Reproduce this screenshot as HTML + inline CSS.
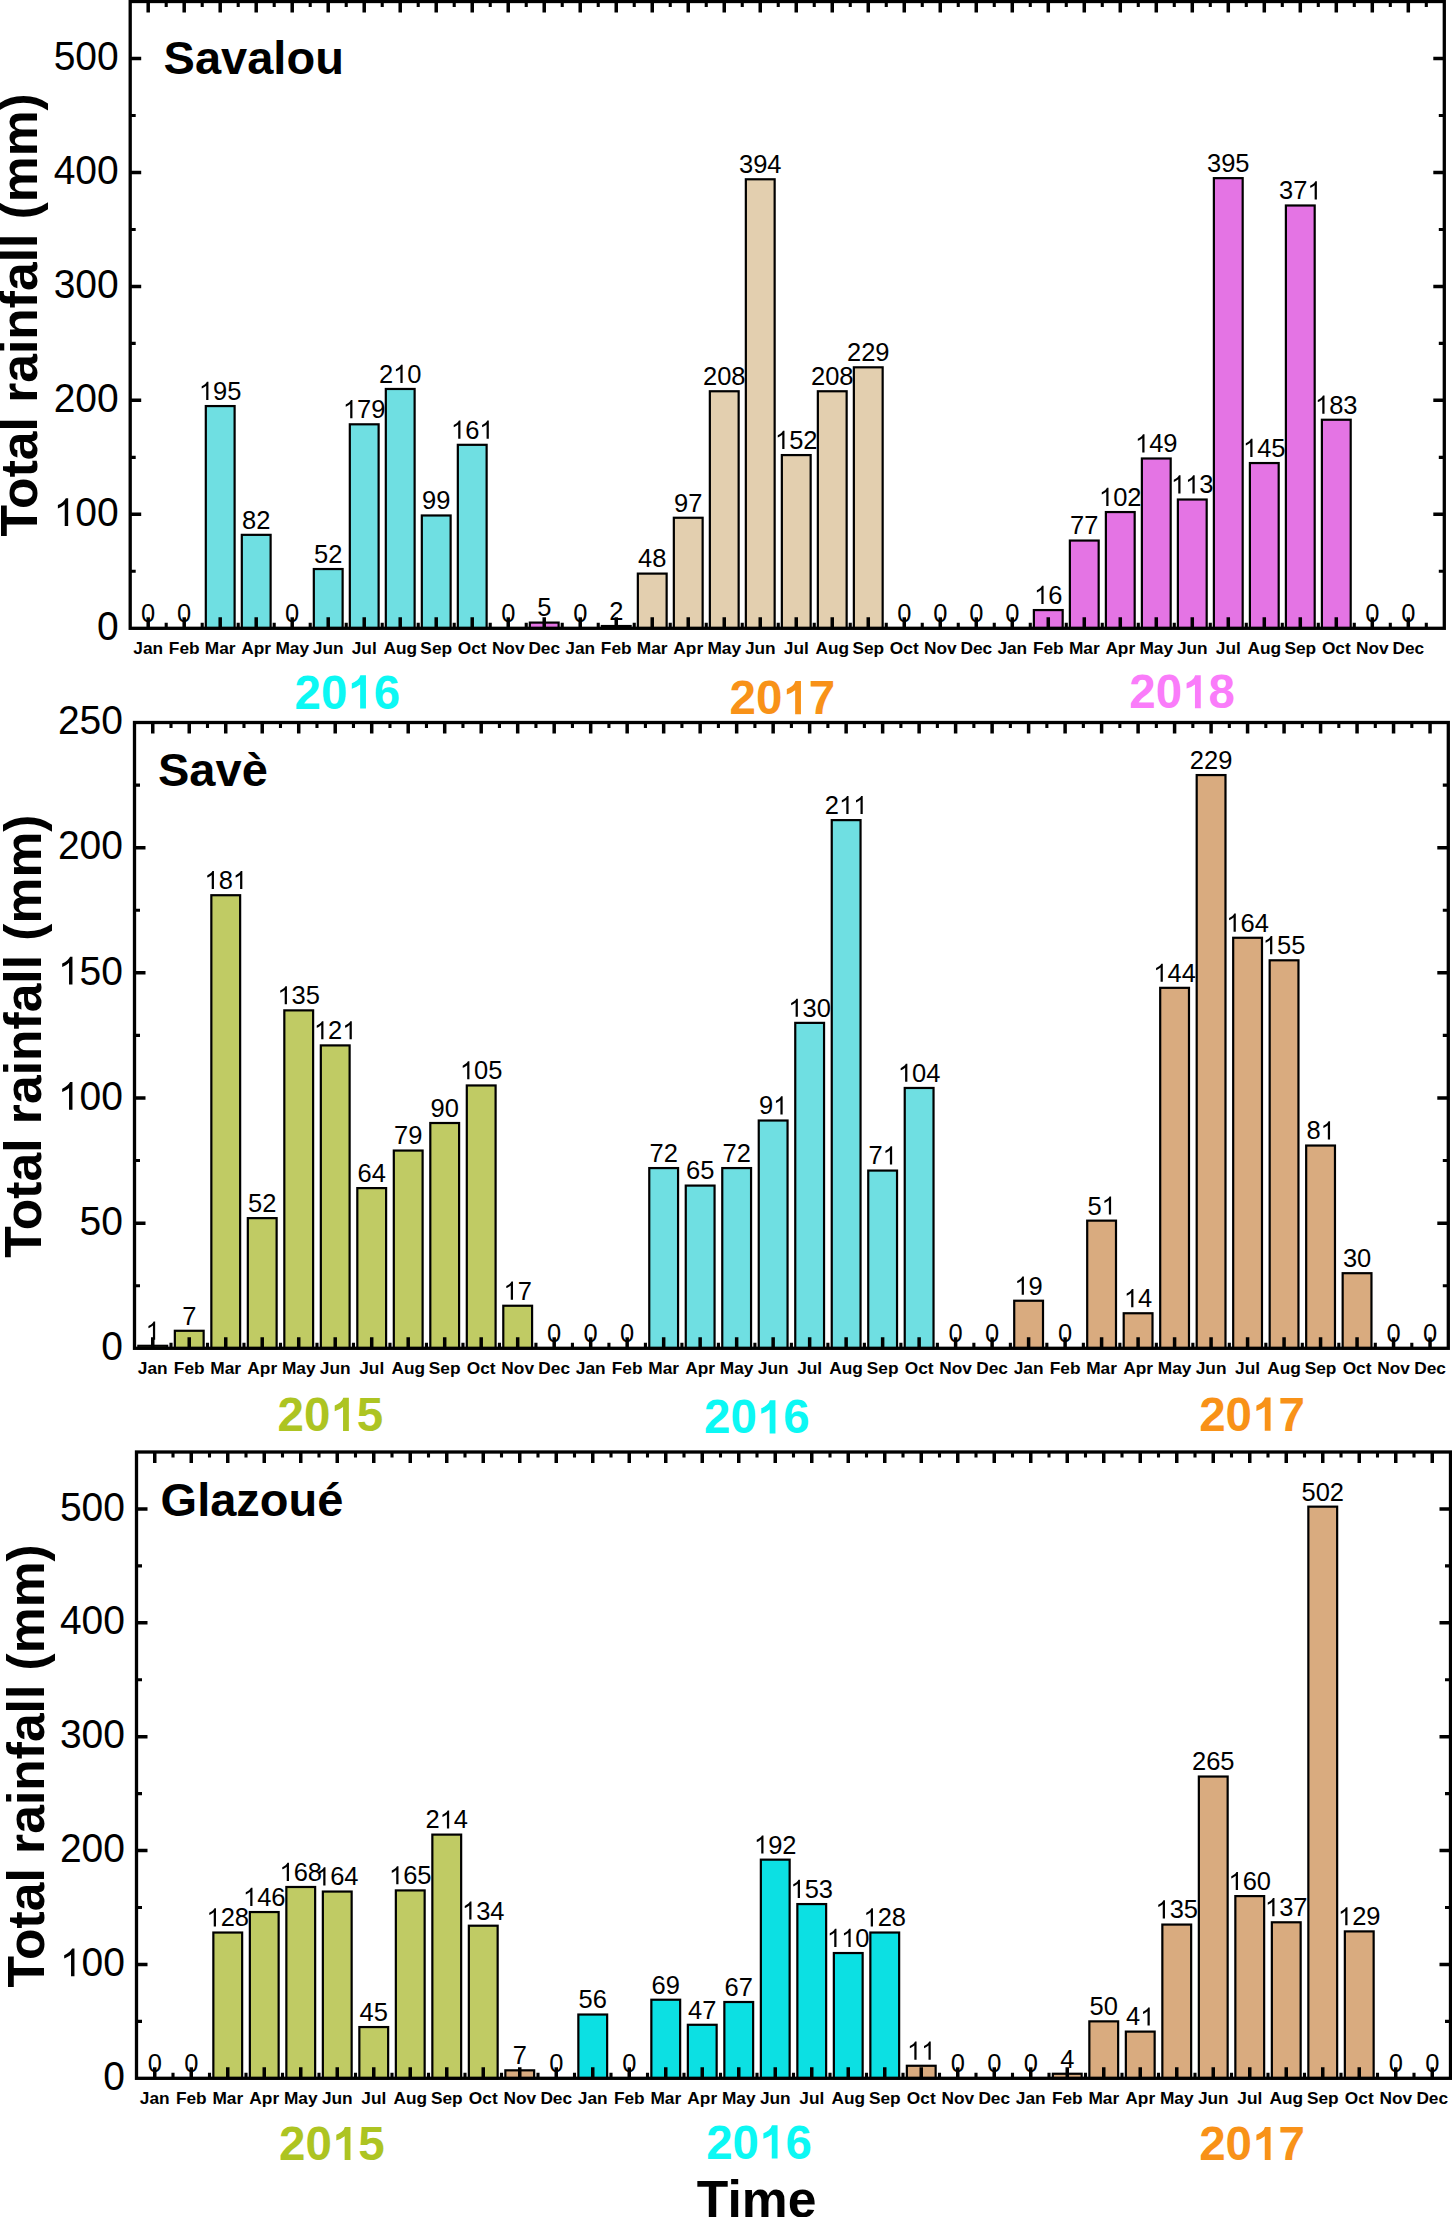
<!DOCTYPE html><html><head><meta charset="utf-8"><style>
html,body{margin:0;padding:0;background:#fff;width:1452px;height:2217px;overflow:hidden}
svg{display:block}text{font-family:"Liberation Sans",sans-serif}
.v{font-size:25.5px;text-anchor:middle}
.yt{font-size:39px;text-anchor:end}
.m{font-size:17.3px;font-weight:bold;text-anchor:middle}
.t{font-size:47px;font-weight:bold}
.yr{font-size:47.5px;font-weight:bold;text-anchor:middle}
.ax{font-size:51.6px;font-weight:bold;text-anchor:middle}
</style></head><body>
<svg width="1452" height="2217" viewBox="0 0 1452 2217">
<rect x="133.8" y="628.3" width="28.8" height="0.01" fill="#6fdfe2" stroke="#000" stroke-width="2.2"/>
<rect x="169.8" y="628.3" width="28.8" height="0.01" fill="#6fdfe2" stroke="#000" stroke-width="2.2"/>
<rect x="205.81" y="406.07" width="28.8" height="222.23" fill="#6fdfe2" stroke="#000" stroke-width="2.2"/>
<rect x="241.81" y="534.85" width="28.8" height="93.45" fill="#6fdfe2" stroke="#000" stroke-width="2.2"/>
<rect x="277.81" y="628.3" width="28.8" height="0.01" fill="#6fdfe2" stroke="#000" stroke-width="2.2"/>
<rect x="313.82" y="569.04" width="28.8" height="59.26" fill="#6fdfe2" stroke="#000" stroke-width="2.2"/>
<rect x="349.82" y="424.31" width="28.8" height="203.99" fill="#6fdfe2" stroke="#000" stroke-width="2.2"/>
<rect x="385.82" y="388.98" width="28.8" height="239.32" fill="#6fdfe2" stroke="#000" stroke-width="2.2"/>
<rect x="421.82" y="515.48" width="28.8" height="112.82" fill="#6fdfe2" stroke="#000" stroke-width="2.2"/>
<rect x="457.83" y="444.82" width="28.8" height="183.48" fill="#6fdfe2" stroke="#000" stroke-width="2.2"/>
<rect x="493.83" y="628.3" width="28.8" height="0.01" fill="#6fdfe2" stroke="#000" stroke-width="2.2"/>
<rect x="529.83" y="622.6" width="28.8" height="5.7" fill="#e474e4" stroke="#000" stroke-width="2.2"/>
<rect x="565.83" y="628.3" width="28.8" height="0.01" fill="#e3cfaf" stroke="#000" stroke-width="2.2"/>
<rect x="601.84" y="626.02" width="28.8" height="2.28" fill="#e3cfaf" stroke="#000" stroke-width="2.2"/>
<rect x="637.84" y="573.6" width="28.8" height="54.7" fill="#e3cfaf" stroke="#000" stroke-width="2.2"/>
<rect x="673.84" y="517.76" width="28.8" height="110.54" fill="#e3cfaf" stroke="#000" stroke-width="2.2"/>
<rect x="709.85" y="391.26" width="28.8" height="237.04" fill="#e3cfaf" stroke="#000" stroke-width="2.2"/>
<rect x="745.85" y="179.28" width="28.8" height="449.02" fill="#e3cfaf" stroke="#000" stroke-width="2.2"/>
<rect x="781.85" y="455.08" width="28.8" height="173.22" fill="#e3cfaf" stroke="#000" stroke-width="2.2"/>
<rect x="817.85" y="391.26" width="28.8" height="237.04" fill="#e3cfaf" stroke="#000" stroke-width="2.2"/>
<rect x="853.86" y="367.32" width="28.8" height="260.98" fill="#e3cfaf" stroke="#000" stroke-width="2.2"/>
<rect x="889.86" y="628.3" width="28.8" height="0.01" fill="#e3cfaf" stroke="#000" stroke-width="2.2"/>
<rect x="925.86" y="628.3" width="28.8" height="0.01" fill="#e3cfaf" stroke="#000" stroke-width="2.2"/>
<rect x="961.86" y="628.3" width="28.8" height="0.01" fill="#e3cfaf" stroke="#000" stroke-width="2.2"/>
<rect x="997.87" y="628.3" width="28.8" height="0.01" fill="#e474e4" stroke="#000" stroke-width="2.2"/>
<rect x="1033.87" y="610.07" width="28.8" height="18.23" fill="#e474e4" stroke="#000" stroke-width="2.2"/>
<rect x="1069.87" y="540.55" width="28.8" height="87.75" fill="#e474e4" stroke="#000" stroke-width="2.2"/>
<rect x="1105.88" y="512.06" width="28.8" height="116.24" fill="#e474e4" stroke="#000" stroke-width="2.2"/>
<rect x="1141.88" y="458.49" width="28.8" height="169.81" fill="#e474e4" stroke="#000" stroke-width="2.2"/>
<rect x="1177.88" y="499.52" width="28.8" height="128.78" fill="#e474e4" stroke="#000" stroke-width="2.2"/>
<rect x="1213.88" y="178.14" width="28.8" height="450.16" fill="#e474e4" stroke="#000" stroke-width="2.2"/>
<rect x="1249.89" y="463.05" width="28.8" height="165.25" fill="#e474e4" stroke="#000" stroke-width="2.2"/>
<rect x="1285.89" y="205.49" width="28.8" height="422.81" fill="#e474e4" stroke="#000" stroke-width="2.2"/>
<rect x="1321.89" y="419.75" width="28.8" height="208.55" fill="#e474e4" stroke="#000" stroke-width="2.2"/>
<rect x="1357.89" y="628.3" width="28.8" height="0.01" fill="#e474e4" stroke="#000" stroke-width="2.2"/>
<rect x="1393.9" y="628.3" width="28.8" height="0.01" fill="#e474e4" stroke="#000" stroke-width="2.2"/>
<path d="M148.2 628.3V617.3M148.2 1.5V12.5M184.2 628.3V617.3M184.2 1.5V12.5M220.21 628.3V617.3M220.21 1.5V12.5M256.21 628.3V617.3M256.21 1.5V12.5M292.21 628.3V617.3M292.21 1.5V12.5M328.22 628.3V617.3M328.22 1.5V12.5M364.22 628.3V617.3M364.22 1.5V12.5M400.22 628.3V617.3M400.22 1.5V12.5M436.22 628.3V617.3M436.22 1.5V12.5M472.23 628.3V617.3M472.23 1.5V12.5M508.23 628.3V617.3M508.23 1.5V12.5M544.23 628.3V617.3M544.23 1.5V12.5M580.23 628.3V617.3M580.23 1.5V12.5M616.24 628.3V617.3M616.24 1.5V12.5M652.24 628.3V617.3M652.24 1.5V12.5M688.24 628.3V617.3M688.24 1.5V12.5M724.25 628.3V617.3M724.25 1.5V12.5M760.25 628.3V617.3M760.25 1.5V12.5M796.25 628.3V617.3M796.25 1.5V12.5M832.25 628.3V617.3M832.25 1.5V12.5M868.26 628.3V617.3M868.26 1.5V12.5M904.26 628.3V617.3M904.26 1.5V12.5M940.26 628.3V617.3M940.26 1.5V12.5M976.26 628.3V617.3M976.26 1.5V12.5M1012.27 628.3V617.3M1012.27 1.5V12.5M1048.27 628.3V617.3M1048.27 1.5V12.5M1084.27 628.3V617.3M1084.27 1.5V12.5M1120.28 628.3V617.3M1120.28 1.5V12.5M1156.28 628.3V617.3M1156.28 1.5V12.5M1192.28 628.3V617.3M1192.28 1.5V12.5M1228.28 628.3V617.3M1228.28 1.5V12.5M1264.29 628.3V617.3M1264.29 1.5V12.5M1300.29 628.3V617.3M1300.29 1.5V12.5M1336.29 628.3V617.3M1336.29 1.5V12.5M1372.29 628.3V617.3M1372.29 1.5V12.5M1408.3 628.3V617.3M1408.3 1.5V12.5M130.2 514.34H141.2M1444.3 514.34H1433.3M130.2 400.37H141.2M1444.3 400.37H1433.3M130.2 286.41H141.2M1444.3 286.41H1433.3M130.2 172.45H141.2M1444.3 172.45H1433.3M130.2 58.48H141.2M1444.3 58.48H1433.3" stroke="#000" stroke-width="3.5" fill="none"/>
<path d="M166.2 628.3V622.8M166.2 1.5V7M202.21 628.3V622.8M202.21 1.5V7M238.21 628.3V622.8M238.21 1.5V7M274.21 628.3V622.8M274.21 1.5V7M310.21 628.3V622.8M310.21 1.5V7M346.22 628.3V622.8M346.22 1.5V7M382.22 628.3V622.8M382.22 1.5V7M418.22 628.3V622.8M418.22 1.5V7M454.22 628.3V622.8M454.22 1.5V7M490.23 628.3V622.8M490.23 1.5V7M526.23 628.3V622.8M526.23 1.5V7M562.23 628.3V622.8M562.23 1.5V7M598.24 628.3V622.8M598.24 1.5V7M634.24 628.3V622.8M634.24 1.5V7M670.24 628.3V622.8M670.24 1.5V7M706.24 628.3V622.8M706.24 1.5V7M742.25 628.3V622.8M742.25 1.5V7M778.25 628.3V622.8M778.25 1.5V7M814.25 628.3V622.8M814.25 1.5V7M850.25 628.3V622.8M850.25 1.5V7M886.26 628.3V622.8M886.26 1.5V7M922.26 628.3V622.8M922.26 1.5V7M958.26 628.3V622.8M958.26 1.5V7M994.27 628.3V622.8M994.27 1.5V7M1030.27 628.3V622.8M1030.27 1.5V7M1066.27 628.3V622.8M1066.27 1.5V7M1102.27 628.3V622.8M1102.27 1.5V7M1138.28 628.3V622.8M1138.28 1.5V7M1174.28 628.3V622.8M1174.28 1.5V7M1210.28 628.3V622.8M1210.28 1.5V7M1246.28 628.3V622.8M1246.28 1.5V7M1282.29 628.3V622.8M1282.29 1.5V7M1318.29 628.3V622.8M1318.29 1.5V7M1354.29 628.3V622.8M1354.29 1.5V7M1390.3 628.3V622.8M1390.3 1.5V7M1426.3 628.3V622.8M1426.3 1.5V7M130.2 571.32H135.7M1444.3 571.32H1438.8M130.2 457.35H135.7M1444.3 457.35H1438.8M130.2 343.39H135.7M1444.3 343.39H1438.8M130.2 229.43H135.7M1444.3 229.43H1438.8M130.2 115.46H135.7M1444.3 115.46H1438.8" stroke="#000" stroke-width="3.1" fill="none"/>
<rect x="130.2" y="1.5" width="1314.1" height="626.8" fill="none" stroke="#000" stroke-width="3.3"/>
<text class="v" x="148.2" y="622.2" transform="matrix(1 0 0 1.0300 0 -18.67)">0</text>
<text class="v" x="184.2" y="622.2" transform="matrix(1 0 0 1.0300 0 -18.67)">0</text>
<path transform="translate(198.93 399.97) scale(0.01245 -0.01245)" d="M763 0L583 0L583 1140Q518 1080 412 1018Q307 957 223 926L223 1100Q374 1170 487 1265Q595 1360 640 1455L763 1455Z"/><text class="v" style="text-anchor:start" x="213.12" y="399.97" transform="matrix(1 0 0 1.0300 0 -12)">95</text>
<text class="v" x="256.21" y="528.75" transform="matrix(1 0 0 1.0300 0 -15.86)">82</text>
<text class="v" x="292.21" y="622.2" transform="matrix(1 0 0 1.0300 0 -18.67)">0</text>
<text class="v" x="328.22" y="562.94" transform="matrix(1 0 0 1.0300 0 -16.89)">52</text>
<path transform="translate(342.94 418.21) scale(0.01245 -0.01245)" d="M763 0L583 0L583 1140Q518 1080 412 1018Q307 957 223 926L223 1100Q374 1170 487 1265Q595 1360 640 1455L763 1455Z"/><text class="v" style="text-anchor:start" x="357.13" y="418.21" transform="matrix(1 0 0 1.0300 0 -12.55)">79</text>
<text class="v" style="text-anchor:start" x="378.95" y="382.88" transform="matrix(1 0 0 1.0300 0 -11.49)">2</text><path transform="translate(393.13 382.88) scale(0.01245 -0.01245)" d="M763 0L583 0L583 1140Q518 1080 412 1018Q307 957 223 926L223 1100Q374 1170 487 1265Q595 1360 640 1455L763 1455Z"/><text class="v" style="text-anchor:start" x="407.31" y="382.88" transform="matrix(1 0 0 1.0300 0 -11.49)">0</text>
<text class="v" x="436.22" y="509.38" transform="matrix(1 0 0 1.0300 0 -15.28)">99</text>
<path transform="translate(450.95 438.72) scale(0.01245 -0.01245)" d="M763 0L583 0L583 1140Q518 1080 412 1018Q307 957 223 926L223 1100Q374 1170 487 1265Q595 1360 640 1455L763 1455Z"/><text class="v" style="text-anchor:start" x="465.14" y="438.72" transform="matrix(1 0 0 1.0300 0 -13.16)">6</text><path transform="translate(479.32 438.72) scale(0.01245 -0.01245)" d="M763 0L583 0L583 1140Q518 1080 412 1018Q307 957 223 926L223 1100Q374 1170 487 1265Q595 1360 640 1455L763 1455Z"/>
<text class="v" x="508.23" y="622.2" transform="matrix(1 0 0 1.0300 0 -18.67)">0</text>
<text class="v" x="544.23" y="616.5" transform="matrix(1 0 0 1.0300 0 -18.5)">5</text>
<text class="v" x="580.23" y="622.2" transform="matrix(1 0 0 1.0300 0 -18.67)">0</text>
<text class="v" x="616.24" y="619.92" transform="matrix(1 0 0 1.0300 0 -18.6)">2</text>
<text class="v" x="652.24" y="567.5" transform="matrix(1 0 0 1.0300 0 -17.02)">48</text>
<text class="v" x="688.24" y="511.66" transform="matrix(1 0 0 1.0300 0 -15.35)">97</text>
<text class="v" x="724.25" y="385.16" transform="matrix(1 0 0 1.0300 0 -11.55)">208</text>
<text class="v" x="760.25" y="173.18" transform="matrix(1 0 0 1.0300 0 -5.2)">394</text>
<path transform="translate(774.98 448.98) scale(0.01245 -0.01245)" d="M763 0L583 0L583 1140Q518 1080 412 1018Q307 957 223 926L223 1100Q374 1170 487 1265Q595 1360 640 1455L763 1455Z"/><text class="v" style="text-anchor:start" x="789.16" y="448.98" transform="matrix(1 0 0 1.0300 0 -13.47)">52</text>
<text class="v" x="832.25" y="385.16" transform="matrix(1 0 0 1.0300 0 -11.55)">208</text>
<text class="v" x="868.26" y="361.22" transform="matrix(1 0 0 1.0300 0 -10.84)">229</text>
<text class="v" x="904.26" y="622.2" transform="matrix(1 0 0 1.0300 0 -18.67)">0</text>
<text class="v" x="940.26" y="622.2" transform="matrix(1 0 0 1.0300 0 -18.67)">0</text>
<text class="v" x="976.26" y="622.2" transform="matrix(1 0 0 1.0300 0 -18.67)">0</text>
<text class="v" x="1012.27" y="622.2" transform="matrix(1 0 0 1.0300 0 -18.67)">0</text>
<path transform="translate(1034.09 603.97) scale(0.01245 -0.01245)" d="M763 0L583 0L583 1140Q518 1080 412 1018Q307 957 223 926L223 1100Q374 1170 487 1265Q595 1360 640 1455L763 1455Z"/><text class="v" style="text-anchor:start" x="1048.27" y="603.97" transform="matrix(1 0 0 1.0300 0 -18.12)">6</text>
<text class="v" x="1084.27" y="534.45" transform="matrix(1 0 0 1.0300 0 -16.03)">77</text>
<path transform="translate(1099 505.96) scale(0.01245 -0.01245)" d="M763 0L583 0L583 1140Q518 1080 412 1018Q307 957 223 926L223 1100Q374 1170 487 1265Q595 1360 640 1455L763 1455Z"/><text class="v" style="text-anchor:start" x="1113.18" y="505.96" transform="matrix(1 0 0 1.0300 0 -15.18)">02</text>
<path transform="translate(1135.01 452.39) scale(0.01245 -0.01245)" d="M763 0L583 0L583 1140Q518 1080 412 1018Q307 957 223 926L223 1100Q374 1170 487 1265Q595 1360 640 1455L763 1455Z"/><text class="v" style="text-anchor:start" x="1149.19" y="452.39" transform="matrix(1 0 0 1.0300 0 -13.57)">49</text>
<path transform="translate(1171.01 493.42) scale(0.01245 -0.01245)" d="M763 0L583 0L583 1140Q518 1080 412 1018Q307 957 223 926L223 1100Q374 1170 487 1265Q595 1360 640 1455L763 1455Z"/><path transform="translate(1185.19 493.42) scale(0.01245 -0.01245)" d="M763 0L583 0L583 1140Q518 1080 412 1018Q307 957 223 926L223 1100Q374 1170 487 1265Q595 1360 640 1455L763 1455Z"/><text class="v" style="text-anchor:start" x="1199.37" y="493.42" transform="matrix(1 0 0 1.0300 0 -14.8)">3</text>
<text class="v" x="1228.28" y="172.04" transform="matrix(1 0 0 1.0300 0 -5.16)">395</text>
<path transform="translate(1243.01 456.95) scale(0.01245 -0.01245)" d="M763 0L583 0L583 1140Q518 1080 412 1018Q307 957 223 926L223 1100Q374 1170 487 1265Q595 1360 640 1455L763 1455Z"/><text class="v" style="text-anchor:start" x="1257.2" y="456.95" transform="matrix(1 0 0 1.0300 0 -13.71)">45</text>
<text class="v" style="text-anchor:start" x="1279.02" y="199.39" transform="matrix(1 0 0 1.0300 0 -5.98)">37</text><path transform="translate(1307.38 199.39) scale(0.01245 -0.01245)" d="M763 0L583 0L583 1140Q518 1080 412 1018Q307 957 223 926L223 1100Q374 1170 487 1265Q595 1360 640 1455L763 1455Z"/>
<path transform="translate(1315.02 413.65) scale(0.01245 -0.01245)" d="M763 0L583 0L583 1140Q518 1080 412 1018Q307 957 223 926L223 1100Q374 1170 487 1265Q595 1360 640 1455L763 1455Z"/><text class="v" style="text-anchor:start" x="1329.2" y="413.65" transform="matrix(1 0 0 1.0300 0 -12.41)">83</text>
<text class="v" x="1372.29" y="622.2" transform="matrix(1 0 0 1.0300 0 -18.67)">0</text>
<text class="v" x="1408.3" y="622.2" transform="matrix(1 0 0 1.0300 0 -18.67)">0</text>
<text class="yt" x="118.7" y="640" transform="matrix(1 0 0 1.0300 0 -19.2)">0</text>
<path transform="translate(53.63 526.04) scale(0.01904 -0.01904)" d="M763 0L583 0L583 1140Q518 1080 412 1018Q307 957 223 926L223 1100Q374 1170 487 1265Q595 1360 640 1455L763 1455Z"/><text class="yt" style="text-anchor:start" x="75.32" y="526.04" transform="matrix(1 0 0 1.0300 0 -15.78)">00</text>
<text class="yt" x="118.7" y="412.07" transform="matrix(1 0 0 1.0300 0 -12.36)">200</text>
<text class="yt" x="118.7" y="298.11" transform="matrix(1 0 0 1.0300 0 -8.94)">300</text>
<text class="yt" x="118.7" y="184.15" transform="matrix(1 0 0 1.0300 0 -5.52)">400</text>
<text class="yt" x="118.7" y="70.18" transform="matrix(1 0 0 1.0300 0 -2.11)">500</text>
<text class="m" x="148.2" y="653.5">Jan</text>
<text class="m" x="184.2" y="653.5">Feb</text>
<text class="m" x="220.21" y="653.5">Mar</text>
<text class="m" x="256.21" y="653.5">Apr</text>
<text class="m" x="292.21" y="653.5">May</text>
<text class="m" x="328.22" y="653.5">Jun</text>
<text class="m" x="364.22" y="653.5">Jul</text>
<text class="m" x="400.22" y="653.5">Aug</text>
<text class="m" x="436.22" y="653.5">Sep</text>
<text class="m" x="472.23" y="653.5">Oct</text>
<text class="m" x="508.23" y="653.5">Nov</text>
<text class="m" x="544.23" y="653.5">Dec</text>
<text class="m" x="580.23" y="653.5">Jan</text>
<text class="m" x="616.24" y="653.5">Feb</text>
<text class="m" x="652.24" y="653.5">Mar</text>
<text class="m" x="688.24" y="653.5">Apr</text>
<text class="m" x="724.25" y="653.5">May</text>
<text class="m" x="760.25" y="653.5">Jun</text>
<text class="m" x="796.25" y="653.5">Jul</text>
<text class="m" x="832.25" y="653.5">Aug</text>
<text class="m" x="868.26" y="653.5">Sep</text>
<text class="m" x="904.26" y="653.5">Oct</text>
<text class="m" x="940.26" y="653.5">Nov</text>
<text class="m" x="976.26" y="653.5">Dec</text>
<text class="m" x="1012.27" y="653.5">Jan</text>
<text class="m" x="1048.27" y="653.5">Feb</text>
<text class="m" x="1084.27" y="653.5">Mar</text>
<text class="m" x="1120.28" y="653.5">Apr</text>
<text class="m" x="1156.28" y="653.5">May</text>
<text class="m" x="1192.28" y="653.5">Jun</text>
<text class="m" x="1228.28" y="653.5">Jul</text>
<text class="m" x="1264.29" y="653.5">Aug</text>
<text class="m" x="1300.29" y="653.5">Sep</text>
<text class="m" x="1336.29" y="653.5">Oct</text>
<text class="m" x="1372.29" y="653.5">Nov</text>
<text class="m" x="1408.3" y="653.5">Dec</text>
<text class="t" x="163.6" y="74.1">Savalou</text>
<text class="yr" style="text-anchor:start" x="294.57" y="708.5" fill="#0cf8f4">20</text><path transform="translate(347.4 708.5) scale(0.02319 -0.02319)" d="M800 0L550 0L550 1030Q400 905 190 850L190 1090Q300 1125 420 1220Q525 1305 560 1430L800 1430Z" fill="#0cf8f4"/><text class="yr" style="text-anchor:start" x="373.82" y="708.5" fill="#0cf8f4">6</text>
<text class="yr" style="text-anchor:start" x="729.57" y="714.2" fill="#f89218">20</text><path transform="translate(782.4 714.2) scale(0.02319 -0.02319)" d="M800 0L550 0L550 1030Q400 905 190 850L190 1090Q300 1125 420 1220Q525 1305 560 1430L800 1430Z" fill="#f89218"/><text class="yr" style="text-anchor:start" x="808.82" y="714.2" fill="#f89218">7</text>
<text class="yr" style="text-anchor:start" x="1129.37" y="708.3" fill="#fa7cfa">20</text><path transform="translate(1182.2 708.3) scale(0.02319 -0.02319)" d="M800 0L550 0L550 1030Q400 905 190 850L190 1090Q300 1125 420 1220Q525 1305 560 1430L800 1430Z" fill="#fa7cfa"/><text class="yr" style="text-anchor:start" x="1208.62" y="708.3" fill="#fa7cfa">8</text>
<text class="ax" transform="translate(37.4 314.9) rotate(-90)">Total rainfall (mm)</text>
<rect x="138.35" y="1345.8" width="28.8" height="2.5" fill="#c0cb64" stroke="#000" stroke-width="2.2"/>
<rect x="174.84" y="1330.78" width="28.8" height="17.52" fill="#c0cb64" stroke="#000" stroke-width="2.2"/>
<rect x="211.34" y="895.22" width="28.8" height="453.08" fill="#c0cb64" stroke="#000" stroke-width="2.2"/>
<rect x="247.83" y="1218.13" width="28.8" height="130.17" fill="#c0cb64" stroke="#000" stroke-width="2.2"/>
<rect x="284.32" y="1010.37" width="28.8" height="337.93" fill="#c0cb64" stroke="#000" stroke-width="2.2"/>
<rect x="320.82" y="1045.41" width="28.8" height="302.89" fill="#c0cb64" stroke="#000" stroke-width="2.2"/>
<rect x="357.31" y="1188.1" width="28.8" height="160.2" fill="#c0cb64" stroke="#000" stroke-width="2.2"/>
<rect x="393.81" y="1150.55" width="28.8" height="197.75" fill="#c0cb64" stroke="#000" stroke-width="2.2"/>
<rect x="430.3" y="1123.01" width="28.8" height="225.29" fill="#c0cb64" stroke="#000" stroke-width="2.2"/>
<rect x="466.8" y="1085.46" width="28.8" height="262.84" fill="#c0cb64" stroke="#000" stroke-width="2.2"/>
<rect x="503.29" y="1305.75" width="28.8" height="42.55" fill="#c0cb64" stroke="#000" stroke-width="2.2"/>
<rect x="539.79" y="1348.3" width="28.8" height="0.01" fill="#c0cb64" stroke="#000" stroke-width="2.2"/>
<rect x="576.28" y="1348.3" width="28.8" height="0.01" fill="#6fdfe2" stroke="#000" stroke-width="2.2"/>
<rect x="612.77" y="1348.3" width="28.8" height="0.01" fill="#6fdfe2" stroke="#000" stroke-width="2.2"/>
<rect x="649.27" y="1168.07" width="28.8" height="180.23" fill="#6fdfe2" stroke="#000" stroke-width="2.2"/>
<rect x="685.76" y="1185.59" width="28.8" height="162.71" fill="#6fdfe2" stroke="#000" stroke-width="2.2"/>
<rect x="722.26" y="1168.07" width="28.8" height="180.23" fill="#6fdfe2" stroke="#000" stroke-width="2.2"/>
<rect x="758.75" y="1120.51" width="28.8" height="227.79" fill="#6fdfe2" stroke="#000" stroke-width="2.2"/>
<rect x="795.25" y="1022.88" width="28.8" height="325.42" fill="#6fdfe2" stroke="#000" stroke-width="2.2"/>
<rect x="831.74" y="820.12" width="28.8" height="528.18" fill="#6fdfe2" stroke="#000" stroke-width="2.2"/>
<rect x="868.24" y="1170.57" width="28.8" height="177.73" fill="#6fdfe2" stroke="#000" stroke-width="2.2"/>
<rect x="904.73" y="1087.97" width="28.8" height="260.33" fill="#6fdfe2" stroke="#000" stroke-width="2.2"/>
<rect x="941.22" y="1348.3" width="28.8" height="0.01" fill="#6fdfe2" stroke="#000" stroke-width="2.2"/>
<rect x="977.72" y="1348.3" width="28.8" height="0.01" fill="#6fdfe2" stroke="#000" stroke-width="2.2"/>
<rect x="1014.21" y="1300.74" width="28.8" height="47.56" fill="#d9ab7f" stroke="#000" stroke-width="2.2"/>
<rect x="1050.71" y="1348.3" width="28.8" height="0.01" fill="#d9ab7f" stroke="#000" stroke-width="2.2"/>
<rect x="1087.2" y="1220.64" width="28.8" height="127.66" fill="#d9ab7f" stroke="#000" stroke-width="2.2"/>
<rect x="1123.7" y="1313.26" width="28.8" height="35.04" fill="#d9ab7f" stroke="#000" stroke-width="2.2"/>
<rect x="1160.19" y="987.84" width="28.8" height="360.46" fill="#d9ab7f" stroke="#000" stroke-width="2.2"/>
<rect x="1196.69" y="775.07" width="28.8" height="573.23" fill="#d9ab7f" stroke="#000" stroke-width="2.2"/>
<rect x="1233.18" y="937.78" width="28.8" height="410.52" fill="#d9ab7f" stroke="#000" stroke-width="2.2"/>
<rect x="1269.67" y="960.3" width="28.8" height="388" fill="#d9ab7f" stroke="#000" stroke-width="2.2"/>
<rect x="1306.17" y="1145.54" width="28.8" height="202.76" fill="#d9ab7f" stroke="#000" stroke-width="2.2"/>
<rect x="1342.66" y="1273.2" width="28.8" height="75.1" fill="#d9ab7f" stroke="#000" stroke-width="2.2"/>
<rect x="1379.16" y="1348.3" width="28.8" height="0.01" fill="#d9ab7f" stroke="#000" stroke-width="2.2"/>
<rect x="1415.65" y="1348.3" width="28.8" height="0.01" fill="#d9ab7f" stroke="#000" stroke-width="2.2"/>
<path d="M152.75 1348.3V1337.3M152.75 722.5V733.5M189.24 1348.3V1337.3M189.24 722.5V733.5M225.74 1348.3V1337.3M225.74 722.5V733.5M262.23 1348.3V1337.3M262.23 722.5V733.5M298.72 1348.3V1337.3M298.72 722.5V733.5M335.22 1348.3V1337.3M335.22 722.5V733.5M371.71 1348.3V1337.3M371.71 722.5V733.5M408.21 1348.3V1337.3M408.21 722.5V733.5M444.7 1348.3V1337.3M444.7 722.5V733.5M481.2 1348.3V1337.3M481.2 722.5V733.5M517.69 1348.3V1337.3M517.69 722.5V733.5M554.19 1348.3V1337.3M554.19 722.5V733.5M590.68 1348.3V1337.3M590.68 722.5V733.5M627.17 1348.3V1337.3M627.17 722.5V733.5M663.67 1348.3V1337.3M663.67 722.5V733.5M700.16 1348.3V1337.3M700.16 722.5V733.5M736.66 1348.3V1337.3M736.66 722.5V733.5M773.15 1348.3V1337.3M773.15 722.5V733.5M809.65 1348.3V1337.3M809.65 722.5V733.5M846.14 1348.3V1337.3M846.14 722.5V733.5M882.64 1348.3V1337.3M882.64 722.5V733.5M919.13 1348.3V1337.3M919.13 722.5V733.5M955.62 1348.3V1337.3M955.62 722.5V733.5M992.12 1348.3V1337.3M992.12 722.5V733.5M1028.61 1348.3V1337.3M1028.61 722.5V733.5M1065.11 1348.3V1337.3M1065.11 722.5V733.5M1101.6 1348.3V1337.3M1101.6 722.5V733.5M1138.1 1348.3V1337.3M1138.1 722.5V733.5M1174.59 1348.3V1337.3M1174.59 722.5V733.5M1211.09 1348.3V1337.3M1211.09 722.5V733.5M1247.58 1348.3V1337.3M1247.58 722.5V733.5M1284.07 1348.3V1337.3M1284.07 722.5V733.5M1320.57 1348.3V1337.3M1320.57 722.5V733.5M1357.06 1348.3V1337.3M1357.06 722.5V733.5M1393.56 1348.3V1337.3M1393.56 722.5V733.5M1430.05 1348.3V1337.3M1430.05 722.5V733.5M134.5 1223.14H145.5M1448.3 1223.14H1437.3M134.5 1097.98H145.5M1448.3 1097.98H1437.3M134.5 972.82H145.5M1448.3 972.82H1437.3M134.5 847.66H145.5M1448.3 847.66H1437.3" stroke="#000" stroke-width="3.5" fill="none"/>
<path d="M170.99 1348.3V1342.8M170.99 722.5V728M207.49 1348.3V1342.8M207.49 722.5V728M243.98 1348.3V1342.8M243.98 722.5V728M280.48 1348.3V1342.8M280.48 722.5V728M316.97 1348.3V1342.8M316.97 722.5V728M353.47 1348.3V1342.8M353.47 722.5V728M389.96 1348.3V1342.8M389.96 722.5V728M426.46 1348.3V1342.8M426.46 722.5V728M462.95 1348.3V1342.8M462.95 722.5V728M499.44 1348.3V1342.8M499.44 722.5V728M535.94 1348.3V1342.8M535.94 722.5V728M572.43 1348.3V1342.8M572.43 722.5V728M608.93 1348.3V1342.8M608.93 722.5V728M645.42 1348.3V1342.8M645.42 722.5V728M681.92 1348.3V1342.8M681.92 722.5V728M718.41 1348.3V1342.8M718.41 722.5V728M754.91 1348.3V1342.8M754.91 722.5V728M791.4 1348.3V1342.8M791.4 722.5V728M827.89 1348.3V1342.8M827.89 722.5V728M864.39 1348.3V1342.8M864.39 722.5V728M900.88 1348.3V1342.8M900.88 722.5V728M937.38 1348.3V1342.8M937.38 722.5V728M973.87 1348.3V1342.8M973.87 722.5V728M1010.37 1348.3V1342.8M1010.37 722.5V728M1046.86 1348.3V1342.8M1046.86 722.5V728M1083.36 1348.3V1342.8M1083.36 722.5V728M1119.85 1348.3V1342.8M1119.85 722.5V728M1156.34 1348.3V1342.8M1156.34 722.5V728M1192.84 1348.3V1342.8M1192.84 722.5V728M1229.33 1348.3V1342.8M1229.33 722.5V728M1265.83 1348.3V1342.8M1265.83 722.5V728M1302.32 1348.3V1342.8M1302.32 722.5V728M1338.82 1348.3V1342.8M1338.82 722.5V728M1375.31 1348.3V1342.8M1375.31 722.5V728M1411.81 1348.3V1342.8M1411.81 722.5V728M134.5 1285.72H140M1448.3 1285.72H1442.8M134.5 1160.56H140M1448.3 1160.56H1442.8M134.5 1035.4H140M1448.3 1035.4H1442.8M134.5 910.24H140M1448.3 910.24H1442.8M134.5 785.08H140M1448.3 785.08H1442.8" stroke="#000" stroke-width="3.1" fill="none"/>
<rect x="134.5" y="722.5" width="1313.8" height="625.8" fill="none" stroke="#000" stroke-width="3.3"/>
<path transform="translate(145.66 1339.7) scale(0.01245 -0.01245)" d="M763 0L583 0L583 1140Q518 1080 412 1018Q307 957 223 926L223 1100Q374 1170 487 1265Q595 1360 640 1455L763 1455Z"/>
<text class="v" x="189.24" y="1324.68" transform="matrix(1 0 0 1.0300 0 -39.74)">7</text>
<path transform="translate(204.46 889.12) scale(0.01245 -0.01245)" d="M763 0L583 0L583 1140Q518 1080 412 1018Q307 957 223 926L223 1100Q374 1170 487 1265Q595 1360 640 1455L763 1455Z"/><text class="v" style="text-anchor:start" x="218.65" y="889.12" transform="matrix(1 0 0 1.0300 0 -26.67)">8</text><path transform="translate(232.83 889.12) scale(0.01245 -0.01245)" d="M763 0L583 0L583 1140Q518 1080 412 1018Q307 957 223 926L223 1100Q374 1170 487 1265Q595 1360 640 1455L763 1455Z"/>
<text class="v" x="262.23" y="1212.03" transform="matrix(1 0 0 1.0300 0 -36.36)">52</text>
<path transform="translate(277.45 1004.27) scale(0.01245 -0.01245)" d="M763 0L583 0L583 1140Q518 1080 412 1018Q307 957 223 926L223 1100Q374 1170 487 1265Q595 1360 640 1455L763 1455Z"/><text class="v" style="text-anchor:start" x="291.63" y="1004.27" transform="matrix(1 0 0 1.0300 0 -30.13)">35</text>
<path transform="translate(313.95 1039.31) scale(0.01245 -0.01245)" d="M763 0L583 0L583 1140Q518 1080 412 1018Q307 957 223 926L223 1100Q374 1170 487 1265Q595 1360 640 1455L763 1455Z"/><text class="v" style="text-anchor:start" x="328.13" y="1039.31" transform="matrix(1 0 0 1.0300 0 -31.18)">2</text><path transform="translate(342.31 1039.31) scale(0.01245 -0.01245)" d="M763 0L583 0L583 1140Q518 1080 412 1018Q307 957 223 926L223 1100Q374 1170 487 1265Q595 1360 640 1455L763 1455Z"/>
<text class="v" x="371.71" y="1182" transform="matrix(1 0 0 1.0300 0 -35.46)">64</text>
<text class="v" x="408.21" y="1144.45" transform="matrix(1 0 0 1.0300 0 -34.33)">79</text>
<text class="v" x="444.7" y="1116.91" transform="matrix(1 0 0 1.0300 0 -33.51)">90</text>
<path transform="translate(459.92 1079.36) scale(0.01245 -0.01245)" d="M763 0L583 0L583 1140Q518 1080 412 1018Q307 957 223 926L223 1100Q374 1170 487 1265Q595 1360 640 1455L763 1455Z"/><text class="v" style="text-anchor:start" x="474.11" y="1079.36" transform="matrix(1 0 0 1.0300 0 -32.38)">05</text>
<path transform="translate(503.51 1299.65) scale(0.01245 -0.01245)" d="M763 0L583 0L583 1140Q518 1080 412 1018Q307 957 223 926L223 1100Q374 1170 487 1265Q595 1360 640 1455L763 1455Z"/><text class="v" style="text-anchor:start" x="517.69" y="1299.65" transform="matrix(1 0 0 1.0300 0 -38.99)">7</text>
<text class="v" x="554.19" y="1342.2" transform="matrix(1 0 0 1.0300 0 -40.27)">0</text>
<text class="v" x="590.68" y="1342.2" transform="matrix(1 0 0 1.0300 0 -40.27)">0</text>
<text class="v" x="627.17" y="1342.2" transform="matrix(1 0 0 1.0300 0 -40.27)">0</text>
<text class="v" x="663.67" y="1161.97" transform="matrix(1 0 0 1.0300 0 -34.86)">72</text>
<text class="v" x="700.16" y="1179.49" transform="matrix(1 0 0 1.0300 0 -35.38)">65</text>
<text class="v" x="736.66" y="1161.97" transform="matrix(1 0 0 1.0300 0 -34.86)">72</text>
<text class="v" style="text-anchor:start" x="758.97" y="1114.41" transform="matrix(1 0 0 1.0300 0 -33.43)">9</text><path transform="translate(773.15 1114.41) scale(0.01245 -0.01245)" d="M763 0L583 0L583 1140Q518 1080 412 1018Q307 957 223 926L223 1100Q374 1170 487 1265Q595 1360 640 1455L763 1455Z"/>
<path transform="translate(788.37 1016.78) scale(0.01245 -0.01245)" d="M763 0L583 0L583 1140Q518 1080 412 1018Q307 957 223 926L223 1100Q374 1170 487 1265Q595 1360 640 1455L763 1455Z"/><text class="v" style="text-anchor:start" x="802.56" y="1016.78" transform="matrix(1 0 0 1.0300 0 -30.5)">30</text>
<text class="v" style="text-anchor:start" x="824.87" y="814.02" transform="matrix(1 0 0 1.0300 0 -24.42)">2</text><path transform="translate(839.05 814.02) scale(0.01245 -0.01245)" d="M763 0L583 0L583 1140Q518 1080 412 1018Q307 957 223 926L223 1100Q374 1170 487 1265Q595 1360 640 1455L763 1455Z"/><path transform="translate(853.23 814.02) scale(0.01245 -0.01245)" d="M763 0L583 0L583 1140Q518 1080 412 1018Q307 957 223 926L223 1100Q374 1170 487 1265Q595 1360 640 1455L763 1455Z"/>
<text class="v" style="text-anchor:start" x="868.45" y="1164.47" transform="matrix(1 0 0 1.0300 0 -34.93)">7</text><path transform="translate(882.64 1164.47) scale(0.01245 -0.01245)" d="M763 0L583 0L583 1140Q518 1080 412 1018Q307 957 223 926L223 1100Q374 1170 487 1265Q595 1360 640 1455L763 1455Z"/>
<path transform="translate(897.86 1081.87) scale(0.01245 -0.01245)" d="M763 0L583 0L583 1140Q518 1080 412 1018Q307 957 223 926L223 1100Q374 1170 487 1265Q595 1360 640 1455L763 1455Z"/><text class="v" style="text-anchor:start" x="912.04" y="1081.87" transform="matrix(1 0 0 1.0300 0 -32.46)">04</text>
<text class="v" x="955.62" y="1342.2" transform="matrix(1 0 0 1.0300 0 -40.27)">0</text>
<text class="v" x="992.12" y="1342.2" transform="matrix(1 0 0 1.0300 0 -40.27)">0</text>
<path transform="translate(1014.43 1294.64) scale(0.01245 -0.01245)" d="M763 0L583 0L583 1140Q518 1080 412 1018Q307 957 223 926L223 1100Q374 1170 487 1265Q595 1360 640 1455L763 1455Z"/><text class="v" style="text-anchor:start" x="1028.61" y="1294.64" transform="matrix(1 0 0 1.0300 0 -38.84)">9</text>
<text class="v" x="1065.11" y="1342.2" transform="matrix(1 0 0 1.0300 0 -40.27)">0</text>
<text class="v" style="text-anchor:start" x="1087.42" y="1214.54" transform="matrix(1 0 0 1.0300 0 -36.44)">5</text><path transform="translate(1101.6 1214.54) scale(0.01245 -0.01245)" d="M763 0L583 0L583 1140Q518 1080 412 1018Q307 957 223 926L223 1100Q374 1170 487 1265Q595 1360 640 1455L763 1455Z"/>
<path transform="translate(1123.92 1307.16) scale(0.01245 -0.01245)" d="M763 0L583 0L583 1140Q518 1080 412 1018Q307 957 223 926L223 1100Q374 1170 487 1265Q595 1360 640 1455L763 1455Z"/><text class="v" style="text-anchor:start" x="1138.1" y="1307.16" transform="matrix(1 0 0 1.0300 0 -39.21)">4</text>
<path transform="translate(1153.32 981.74) scale(0.01245 -0.01245)" d="M763 0L583 0L583 1140Q518 1080 412 1018Q307 957 223 926L223 1100Q374 1170 487 1265Q595 1360 640 1455L763 1455Z"/><text class="v" style="text-anchor:start" x="1167.5" y="981.74" transform="matrix(1 0 0 1.0300 0 -29.45)">44</text>
<text class="v" x="1211.09" y="768.97" transform="matrix(1 0 0 1.0300 0 -23.07)">229</text>
<path transform="translate(1226.31 931.68) scale(0.01245 -0.01245)" d="M763 0L583 0L583 1140Q518 1080 412 1018Q307 957 223 926L223 1100Q374 1170 487 1265Q595 1360 640 1455L763 1455Z"/><text class="v" style="text-anchor:start" x="1240.49" y="931.68" transform="matrix(1 0 0 1.0300 0 -27.95)">64</text>
<path transform="translate(1262.8 954.2) scale(0.01245 -0.01245)" d="M763 0L583 0L583 1140Q518 1080 412 1018Q307 957 223 926L223 1100Q374 1170 487 1265Q595 1360 640 1455L763 1455Z"/><text class="v" style="text-anchor:start" x="1276.98" y="954.2" transform="matrix(1 0 0 1.0300 0 -28.63)">55</text>
<text class="v" style="text-anchor:start" x="1306.39" y="1139.44" transform="matrix(1 0 0 1.0300 0 -34.18)">8</text><path transform="translate(1320.57 1139.44) scale(0.01245 -0.01245)" d="M763 0L583 0L583 1140Q518 1080 412 1018Q307 957 223 926L223 1100Q374 1170 487 1265Q595 1360 640 1455L763 1455Z"/>
<text class="v" x="1357.06" y="1267.1" transform="matrix(1 0 0 1.0300 0 -38.01)">30</text>
<text class="v" x="1393.56" y="1342.2" transform="matrix(1 0 0 1.0300 0 -40.27)">0</text>
<text class="v" x="1430.05" y="1342.2" transform="matrix(1 0 0 1.0300 0 -40.27)">0</text>
<text class="yt" x="123" y="1360" transform="matrix(1 0 0 1.0300 0 -40.8)">0</text>
<text class="yt" x="123" y="1234.84" transform="matrix(1 0 0 1.0300 0 -37.05)">50</text>
<path transform="translate(57.93 1109.68) scale(0.01904 -0.01904)" d="M763 0L583 0L583 1140Q518 1080 412 1018Q307 957 223 926L223 1100Q374 1170 487 1265Q595 1360 640 1455L763 1455Z"/><text class="yt" style="text-anchor:start" x="79.62" y="1109.68" transform="matrix(1 0 0 1.0300 0 -33.29)">00</text>
<path transform="translate(57.93 984.52) scale(0.01904 -0.01904)" d="M763 0L583 0L583 1140Q518 1080 412 1018Q307 957 223 926L223 1100Q374 1170 487 1265Q595 1360 640 1455L763 1455Z"/><text class="yt" style="text-anchor:start" x="79.62" y="984.52" transform="matrix(1 0 0 1.0300 0 -29.54)">50</text>
<text class="yt" x="123" y="859.36" transform="matrix(1 0 0 1.0300 0 -25.78)">200</text>
<text class="yt" x="123" y="734.2" transform="matrix(1 0 0 1.0300 0 -22.03)">250</text>
<text class="m" x="152.75" y="1373.5">Jan</text>
<text class="m" x="189.24" y="1373.5">Feb</text>
<text class="m" x="225.74" y="1373.5">Mar</text>
<text class="m" x="262.23" y="1373.5">Apr</text>
<text class="m" x="298.72" y="1373.5">May</text>
<text class="m" x="335.22" y="1373.5">Jun</text>
<text class="m" x="371.71" y="1373.5">Jul</text>
<text class="m" x="408.21" y="1373.5">Aug</text>
<text class="m" x="444.7" y="1373.5">Sep</text>
<text class="m" x="481.2" y="1373.5">Oct</text>
<text class="m" x="517.69" y="1373.5">Nov</text>
<text class="m" x="554.19" y="1373.5">Dec</text>
<text class="m" x="590.68" y="1373.5">Jan</text>
<text class="m" x="627.17" y="1373.5">Feb</text>
<text class="m" x="663.67" y="1373.5">Mar</text>
<text class="m" x="700.16" y="1373.5">Apr</text>
<text class="m" x="736.66" y="1373.5">May</text>
<text class="m" x="773.15" y="1373.5">Jun</text>
<text class="m" x="809.65" y="1373.5">Jul</text>
<text class="m" x="846.14" y="1373.5">Aug</text>
<text class="m" x="882.64" y="1373.5">Sep</text>
<text class="m" x="919.13" y="1373.5">Oct</text>
<text class="m" x="955.62" y="1373.5">Nov</text>
<text class="m" x="992.12" y="1373.5">Dec</text>
<text class="m" x="1028.61" y="1373.5">Jan</text>
<text class="m" x="1065.11" y="1373.5">Feb</text>
<text class="m" x="1101.6" y="1373.5">Mar</text>
<text class="m" x="1138.1" y="1373.5">Apr</text>
<text class="m" x="1174.59" y="1373.5">May</text>
<text class="m" x="1211.09" y="1373.5">Jun</text>
<text class="m" x="1247.58" y="1373.5">Jul</text>
<text class="m" x="1284.07" y="1373.5">Aug</text>
<text class="m" x="1320.57" y="1373.5">Sep</text>
<text class="m" x="1357.06" y="1373.5">Oct</text>
<text class="m" x="1393.56" y="1373.5">Nov</text>
<text class="m" x="1430.05" y="1373.5">Dec</text>
<text class="t" x="158" y="786.3">Savè</text>
<text class="yr" style="text-anchor:start" x="277.47" y="1430.9" fill="#adc422">20</text><path transform="translate(330.3 1430.9) scale(0.02319 -0.02319)" d="M800 0L550 0L550 1030Q400 905 190 850L190 1090Q300 1125 420 1220Q525 1305 560 1430L800 1430Z" fill="#adc422"/><text class="yr" style="text-anchor:start" x="356.72" y="1430.9" fill="#adc422">5</text>
<text class="yr" style="text-anchor:start" x="704.07" y="1433.4" fill="#0cf8f4">20</text><path transform="translate(756.9 1433.4) scale(0.02319 -0.02319)" d="M800 0L550 0L550 1030Q400 905 190 850L190 1090Q300 1125 420 1220Q525 1305 560 1430L800 1430Z" fill="#0cf8f4"/><text class="yr" style="text-anchor:start" x="783.32" y="1433.4" fill="#0cf8f4">6</text>
<text class="yr" style="text-anchor:start" x="1199.17" y="1430.7" fill="#f89218">20</text><path transform="translate(1252 1430.7) scale(0.02319 -0.02319)" d="M800 0L550 0L550 1030Q400 905 190 850L190 1090Q300 1125 420 1220Q525 1305 560 1430L800 1430Z" fill="#f89218"/><text class="yr" style="text-anchor:start" x="1278.42" y="1430.7" fill="#f89218">7</text>
<text class="ax" transform="translate(41.3 1036.2) rotate(-90)">Total rainfall (mm)</text>
<rect x="140.35" y="2078.3" width="28.8" height="0.01" fill="#c0cb64" stroke="#000" stroke-width="2.2"/>
<rect x="176.85" y="2078.3" width="28.8" height="0.01" fill="#c0cb64" stroke="#000" stroke-width="2.2"/>
<rect x="213.35" y="1932.54" width="28.8" height="145.76" fill="#c0cb64" stroke="#000" stroke-width="2.2"/>
<rect x="249.85" y="1912.05" width="28.8" height="166.25" fill="#c0cb64" stroke="#000" stroke-width="2.2"/>
<rect x="286.35" y="1886.99" width="28.8" height="191.31" fill="#c0cb64" stroke="#000" stroke-width="2.2"/>
<rect x="322.85" y="1891.55" width="28.8" height="186.75" fill="#c0cb64" stroke="#000" stroke-width="2.2"/>
<rect x="359.35" y="2027.06" width="28.8" height="51.24" fill="#c0cb64" stroke="#000" stroke-width="2.2"/>
<rect x="395.85" y="1890.41" width="28.8" height="187.89" fill="#c0cb64" stroke="#000" stroke-width="2.2"/>
<rect x="432.35" y="1834.61" width="28.8" height="243.69" fill="#c0cb64" stroke="#000" stroke-width="2.2"/>
<rect x="468.85" y="1925.71" width="28.8" height="152.59" fill="#c0cb64" stroke="#000" stroke-width="2.2"/>
<rect x="505.35" y="2070.33" width="28.8" height="7.97" fill="#d9ab7f" stroke="#000" stroke-width="2.2"/>
<rect x="541.85" y="2078.3" width="28.8" height="0.01" fill="#c0cb64" stroke="#000" stroke-width="2.2"/>
<rect x="578.35" y="2014.53" width="28.8" height="63.77" fill="#0ce0e3" stroke="#000" stroke-width="2.2"/>
<rect x="614.85" y="2078.3" width="28.8" height="0.01" fill="#0ce0e3" stroke="#000" stroke-width="2.2"/>
<rect x="651.35" y="1999.73" width="28.8" height="78.57" fill="#0ce0e3" stroke="#000" stroke-width="2.2"/>
<rect x="687.85" y="2024.78" width="28.8" height="53.52" fill="#0ce0e3" stroke="#000" stroke-width="2.2"/>
<rect x="724.35" y="2002.01" width="28.8" height="76.29" fill="#0ce0e3" stroke="#000" stroke-width="2.2"/>
<rect x="760.85" y="1859.66" width="28.8" height="218.64" fill="#0ce0e3" stroke="#000" stroke-width="2.2"/>
<rect x="797.35" y="1904.07" width="28.8" height="174.23" fill="#0ce0e3" stroke="#000" stroke-width="2.2"/>
<rect x="833.85" y="1953.04" width="28.8" height="125.26" fill="#0ce0e3" stroke="#000" stroke-width="2.2"/>
<rect x="870.35" y="1932.54" width="28.8" height="145.76" fill="#0ce0e3" stroke="#000" stroke-width="2.2"/>
<rect x="906.85" y="2065.77" width="28.8" height="12.53" fill="#d9ab7f" stroke="#000" stroke-width="2.2"/>
<rect x="943.35" y="2078.3" width="28.8" height="0.01" fill="#0ce0e3" stroke="#000" stroke-width="2.2"/>
<rect x="979.85" y="2078.3" width="28.8" height="0.01" fill="#0ce0e3" stroke="#000" stroke-width="2.2"/>
<rect x="1016.35" y="2078.3" width="28.8" height="0.01" fill="#d9ab7f" stroke="#000" stroke-width="2.2"/>
<rect x="1052.85" y="2073.75" width="28.8" height="4.55" fill="#d9ab7f" stroke="#000" stroke-width="2.2"/>
<rect x="1089.35" y="2021.36" width="28.8" height="56.94" fill="#d9ab7f" stroke="#000" stroke-width="2.2"/>
<rect x="1125.85" y="2031.61" width="28.8" height="46.69" fill="#d9ab7f" stroke="#000" stroke-width="2.2"/>
<rect x="1162.35" y="1924.57" width="28.8" height="153.73" fill="#d9ab7f" stroke="#000" stroke-width="2.2"/>
<rect x="1198.85" y="1776.54" width="28.8" height="301.76" fill="#d9ab7f" stroke="#000" stroke-width="2.2"/>
<rect x="1235.35" y="1896.1" width="28.8" height="182.2" fill="#d9ab7f" stroke="#000" stroke-width="2.2"/>
<rect x="1271.85" y="1922.29" width="28.8" height="156.01" fill="#d9ab7f" stroke="#000" stroke-width="2.2"/>
<rect x="1308.35" y="1506.66" width="28.8" height="571.64" fill="#d9ab7f" stroke="#000" stroke-width="2.2"/>
<rect x="1344.85" y="1931.4" width="28.8" height="146.9" fill="#d9ab7f" stroke="#000" stroke-width="2.2"/>
<rect x="1381.35" y="2078.3" width="28.8" height="0.01" fill="#d9ab7f" stroke="#000" stroke-width="2.2"/>
<rect x="1417.85" y="2078.3" width="28.8" height="0.01" fill="#d9ab7f" stroke="#000" stroke-width="2.2"/>
<path d="M154.75 2078.3V2067.3M154.75 1452V1463M191.25 2078.3V2067.3M191.25 1452V1463M227.75 2078.3V2067.3M227.75 1452V1463M264.25 2078.3V2067.3M264.25 1452V1463M300.75 2078.3V2067.3M300.75 1452V1463M337.25 2078.3V2067.3M337.25 1452V1463M373.75 2078.3V2067.3M373.75 1452V1463M410.25 2078.3V2067.3M410.25 1452V1463M446.75 2078.3V2067.3M446.75 1452V1463M483.25 2078.3V2067.3M483.25 1452V1463M519.75 2078.3V2067.3M519.75 1452V1463M556.25 2078.3V2067.3M556.25 1452V1463M592.75 2078.3V2067.3M592.75 1452V1463M629.25 2078.3V2067.3M629.25 1452V1463M665.75 2078.3V2067.3M665.75 1452V1463M702.25 2078.3V2067.3M702.25 1452V1463M738.75 2078.3V2067.3M738.75 1452V1463M775.25 2078.3V2067.3M775.25 1452V1463M811.75 2078.3V2067.3M811.75 1452V1463M848.25 2078.3V2067.3M848.25 1452V1463M884.75 2078.3V2067.3M884.75 1452V1463M921.25 2078.3V2067.3M921.25 1452V1463M957.75 2078.3V2067.3M957.75 1452V1463M994.25 2078.3V2067.3M994.25 1452V1463M1030.75 2078.3V2067.3M1030.75 1452V1463M1067.25 2078.3V2067.3M1067.25 1452V1463M1103.75 2078.3V2067.3M1103.75 1452V1463M1140.25 2078.3V2067.3M1140.25 1452V1463M1176.75 2078.3V2067.3M1176.75 1452V1463M1213.25 2078.3V2067.3M1213.25 1452V1463M1249.75 2078.3V2067.3M1249.75 1452V1463M1286.25 2078.3V2067.3M1286.25 1452V1463M1322.75 2078.3V2067.3M1322.75 1452V1463M1359.25 2078.3V2067.3M1359.25 1452V1463M1395.75 2078.3V2067.3M1395.75 1452V1463M1432.25 2078.3V2067.3M1432.25 1452V1463M136.5 1964.43H147.5M1450.5 1964.43H1439.5M136.5 1850.55H147.5M1450.5 1850.55H1439.5M136.5 1736.68H147.5M1450.5 1736.68H1439.5M136.5 1622.81H147.5M1450.5 1622.81H1439.5M136.5 1508.94H147.5M1450.5 1508.94H1439.5" stroke="#000" stroke-width="3.5" fill="none"/>
<path d="M173 2078.3V2072.8M173 1452V1457.5M209.5 2078.3V2072.8M209.5 1452V1457.5M246 2078.3V2072.8M246 1452V1457.5M282.5 2078.3V2072.8M282.5 1452V1457.5M319 2078.3V2072.8M319 1452V1457.5M355.5 2078.3V2072.8M355.5 1452V1457.5M392 2078.3V2072.8M392 1452V1457.5M428.5 2078.3V2072.8M428.5 1452V1457.5M465 2078.3V2072.8M465 1452V1457.5M501.5 2078.3V2072.8M501.5 1452V1457.5M538 2078.3V2072.8M538 1452V1457.5M574.5 2078.3V2072.8M574.5 1452V1457.5M611 2078.3V2072.8M611 1452V1457.5M647.5 2078.3V2072.8M647.5 1452V1457.5M684 2078.3V2072.8M684 1452V1457.5M720.5 2078.3V2072.8M720.5 1452V1457.5M757 2078.3V2072.8M757 1452V1457.5M793.5 2078.3V2072.8M793.5 1452V1457.5M830 2078.3V2072.8M830 1452V1457.5M866.5 2078.3V2072.8M866.5 1452V1457.5M903 2078.3V2072.8M903 1452V1457.5M939.5 2078.3V2072.8M939.5 1452V1457.5M976 2078.3V2072.8M976 1452V1457.5M1012.5 2078.3V2072.8M1012.5 1452V1457.5M1049 2078.3V2072.8M1049 1452V1457.5M1085.5 2078.3V2072.8M1085.5 1452V1457.5M1122 2078.3V2072.8M1122 1452V1457.5M1158.5 2078.3V2072.8M1158.5 1452V1457.5M1195 2078.3V2072.8M1195 1452V1457.5M1231.5 2078.3V2072.8M1231.5 1452V1457.5M1268 2078.3V2072.8M1268 1452V1457.5M1304.5 2078.3V2072.8M1304.5 1452V1457.5M1341 2078.3V2072.8M1341 1452V1457.5M1377.5 2078.3V2072.8M1377.5 1452V1457.5M1414 2078.3V2072.8M1414 1452V1457.5M136.5 2021.36H142M1450.5 2021.36H1445M136.5 1907.49H142M1450.5 1907.49H1445M136.5 1793.62H142M1450.5 1793.62H1445M136.5 1679.75H142M1450.5 1679.75H1445M136.5 1565.87H142M1450.5 1565.87H1445" stroke="#000" stroke-width="3.1" fill="none"/>
<rect x="136.5" y="1452" width="1314" height="626.3" fill="none" stroke="#000" stroke-width="3.3"/>
<text class="v" x="154.75" y="2072.2" transform="matrix(1 0 0 1.0300 0 -62.17)">0</text>
<text class="v" x="191.25" y="2072.2" transform="matrix(1 0 0 1.0300 0 -62.17)">0</text>
<path transform="translate(206.48 1926.44) scale(0.01245 -0.01245)" d="M763 0L583 0L583 1140Q518 1080 412 1018Q307 957 223 926L223 1100Q374 1170 487 1265Q595 1360 640 1455L763 1455Z"/><text class="v" style="text-anchor:start" x="220.66" y="1926.44" transform="matrix(1 0 0 1.0300 0 -57.79)">28</text>
<path transform="translate(242.98 1905.95) scale(0.01245 -0.01245)" d="M763 0L583 0L583 1140Q518 1080 412 1018Q307 957 223 926L223 1100Q374 1170 487 1265Q595 1360 640 1455L763 1455Z"/><text class="v" style="text-anchor:start" x="257.16" y="1905.95" transform="matrix(1 0 0 1.0300 0 -57.18)">46</text>
<path transform="translate(279.48 1880.89) scale(0.01245 -0.01245)" d="M763 0L583 0L583 1140Q518 1080 412 1018Q307 957 223 926L223 1100Q374 1170 487 1265Q595 1360 640 1455L763 1455Z"/><text class="v" style="text-anchor:start" x="293.66" y="1880.89" transform="matrix(1 0 0 1.0300 0 -56.43)">68</text>
<path transform="translate(315.98 1885.45) scale(0.01245 -0.01245)" d="M763 0L583 0L583 1140Q518 1080 412 1018Q307 957 223 926L223 1100Q374 1170 487 1265Q595 1360 640 1455L763 1455Z"/><text class="v" style="text-anchor:start" x="330.16" y="1885.45" transform="matrix(1 0 0 1.0300 0 -56.56)">64</text>
<text class="v" x="373.75" y="2020.96" transform="matrix(1 0 0 1.0300 0 -60.63)">45</text>
<path transform="translate(388.98 1884.31) scale(0.01245 -0.01245)" d="M763 0L583 0L583 1140Q518 1080 412 1018Q307 957 223 926L223 1100Q374 1170 487 1265Q595 1360 640 1455L763 1455Z"/><text class="v" style="text-anchor:start" x="403.16" y="1884.31" transform="matrix(1 0 0 1.0300 0 -56.53)">65</text>
<text class="v" style="text-anchor:start" x="425.48" y="1828.51" transform="matrix(1 0 0 1.0300 0 -54.86)">2</text><path transform="translate(439.66 1828.51) scale(0.01245 -0.01245)" d="M763 0L583 0L583 1140Q518 1080 412 1018Q307 957 223 926L223 1100Q374 1170 487 1265Q595 1360 640 1455L763 1455Z"/><text class="v" style="text-anchor:start" x="453.84" y="1828.51" transform="matrix(1 0 0 1.0300 0 -54.86)">4</text>
<path transform="translate(461.98 1919.61) scale(0.01245 -0.01245)" d="M763 0L583 0L583 1140Q518 1080 412 1018Q307 957 223 926L223 1100Q374 1170 487 1265Q595 1360 640 1455L763 1455Z"/><text class="v" style="text-anchor:start" x="476.16" y="1919.61" transform="matrix(1 0 0 1.0300 0 -57.59)">34</text>
<text class="v" x="519.75" y="2064.23" transform="matrix(1 0 0 1.0300 0 -61.93)">7</text>
<text class="v" x="556.25" y="2072.2" transform="matrix(1 0 0 1.0300 0 -62.17)">0</text>
<text class="v" x="592.75" y="2008.43" transform="matrix(1 0 0 1.0300 0 -60.25)">56</text>
<text class="v" x="629.25" y="2072.2" transform="matrix(1 0 0 1.0300 0 -62.17)">0</text>
<text class="v" x="665.75" y="1993.63" transform="matrix(1 0 0 1.0300 0 -59.81)">69</text>
<text class="v" x="702.25" y="2018.68" transform="matrix(1 0 0 1.0300 0 -60.56)">47</text>
<text class="v" x="738.75" y="1995.91" transform="matrix(1 0 0 1.0300 0 -59.88)">67</text>
<path transform="translate(753.98 1853.56) scale(0.01245 -0.01245)" d="M763 0L583 0L583 1140Q518 1080 412 1018Q307 957 223 926L223 1100Q374 1170 487 1265Q595 1360 640 1455L763 1455Z"/><text class="v" style="text-anchor:start" x="768.16" y="1853.56" transform="matrix(1 0 0 1.0300 0 -55.61)">92</text>
<path transform="translate(790.48 1897.97) scale(0.01245 -0.01245)" d="M763 0L583 0L583 1140Q518 1080 412 1018Q307 957 223 926L223 1100Q374 1170 487 1265Q595 1360 640 1455L763 1455Z"/><text class="v" style="text-anchor:start" x="804.66" y="1897.97" transform="matrix(1 0 0 1.0300 0 -56.94)">53</text>
<path transform="translate(826.98 1946.94) scale(0.01245 -0.01245)" d="M763 0L583 0L583 1140Q518 1080 412 1018Q307 957 223 926L223 1100Q374 1170 487 1265Q595 1360 640 1455L763 1455Z"/><path transform="translate(841.16 1946.94) scale(0.01245 -0.01245)" d="M763 0L583 0L583 1140Q518 1080 412 1018Q307 957 223 926L223 1100Q374 1170 487 1265Q595 1360 640 1455L763 1455Z"/><text class="v" style="text-anchor:start" x="855.34" y="1946.94" transform="matrix(1 0 0 1.0300 0 -58.41)">0</text>
<path transform="translate(863.48 1926.44) scale(0.01245 -0.01245)" d="M763 0L583 0L583 1140Q518 1080 412 1018Q307 957 223 926L223 1100Q374 1170 487 1265Q595 1360 640 1455L763 1455Z"/><text class="v" style="text-anchor:start" x="877.66" y="1926.44" transform="matrix(1 0 0 1.0300 0 -57.79)">28</text>
<path transform="translate(907.07 2059.67) scale(0.01245 -0.01245)" d="M763 0L583 0L583 1140Q518 1080 412 1018Q307 957 223 926L223 1100Q374 1170 487 1265Q595 1360 640 1455L763 1455Z"/><path transform="translate(921.25 2059.67) scale(0.01245 -0.01245)" d="M763 0L583 0L583 1140Q518 1080 412 1018Q307 957 223 926L223 1100Q374 1170 487 1265Q595 1360 640 1455L763 1455Z"/>
<text class="v" x="957.75" y="2072.2" transform="matrix(1 0 0 1.0300 0 -62.17)">0</text>
<text class="v" x="994.25" y="2072.2" transform="matrix(1 0 0 1.0300 0 -62.17)">0</text>
<text class="v" x="1030.75" y="2072.2" transform="matrix(1 0 0 1.0300 0 -62.17)">0</text>
<text class="v" x="1067.25" y="2067.65" transform="matrix(1 0 0 1.0300 0 -62.03)">4</text>
<text class="v" x="1103.75" y="2015.26" transform="matrix(1 0 0 1.0300 0 -60.46)">50</text>
<text class="v" style="text-anchor:start" x="1126.07" y="2025.51" transform="matrix(1 0 0 1.0300 0 -60.77)">4</text><path transform="translate(1140.25 2025.51) scale(0.01245 -0.01245)" d="M763 0L583 0L583 1140Q518 1080 412 1018Q307 957 223 926L223 1100Q374 1170 487 1265Q595 1360 640 1455L763 1455Z"/>
<path transform="translate(1155.48 1918.47) scale(0.01245 -0.01245)" d="M763 0L583 0L583 1140Q518 1080 412 1018Q307 957 223 926L223 1100Q374 1170 487 1265Q595 1360 640 1455L763 1455Z"/><text class="v" style="text-anchor:start" x="1169.66" y="1918.47" transform="matrix(1 0 0 1.0300 0 -57.55)">35</text>
<text class="v" x="1213.25" y="1770.44" transform="matrix(1 0 0 1.0300 0 -53.11)">265</text>
<path transform="translate(1228.48 1890) scale(0.01245 -0.01245)" d="M763 0L583 0L583 1140Q518 1080 412 1018Q307 957 223 926L223 1100Q374 1170 487 1265Q595 1360 640 1455L763 1455Z"/><text class="v" style="text-anchor:start" x="1242.66" y="1890" transform="matrix(1 0 0 1.0300 0 -56.7)">60</text>
<path transform="translate(1264.98 1916.19) scale(0.01245 -0.01245)" d="M763 0L583 0L583 1140Q518 1080 412 1018Q307 957 223 926L223 1100Q374 1170 487 1265Q595 1360 640 1455L763 1455Z"/><text class="v" style="text-anchor:start" x="1279.16" y="1916.19" transform="matrix(1 0 0 1.0300 0 -57.49)">37</text>
<text class="v" x="1322.75" y="1500.56" transform="matrix(1 0 0 1.0300 0 -45.02)">502</text>
<path transform="translate(1337.98 1925.3) scale(0.01245 -0.01245)" d="M763 0L583 0L583 1140Q518 1080 412 1018Q307 957 223 926L223 1100Q374 1170 487 1265Q595 1360 640 1455L763 1455Z"/><text class="v" style="text-anchor:start" x="1352.16" y="1925.3" transform="matrix(1 0 0 1.0300 0 -57.76)">29</text>
<text class="v" x="1395.75" y="2072.2" transform="matrix(1 0 0 1.0300 0 -62.17)">0</text>
<text class="v" x="1432.25" y="2072.2" transform="matrix(1 0 0 1.0300 0 -62.17)">0</text>
<text class="yt" x="125" y="2090" transform="matrix(1 0 0 1.0300 0 -62.7)">0</text>
<path transform="translate(59.93 1976.13) scale(0.01904 -0.01904)" d="M763 0L583 0L583 1140Q518 1080 412 1018Q307 957 223 926L223 1100Q374 1170 487 1265Q595 1360 640 1455L763 1455Z"/><text class="yt" style="text-anchor:start" x="81.62" y="1976.13" transform="matrix(1 0 0 1.0300 0 -59.28)">00</text>
<text class="yt" x="125" y="1862.25" transform="matrix(1 0 0 1.0300 0 -55.87)">200</text>
<text class="yt" x="125" y="1748.38" transform="matrix(1 0 0 1.0300 0 -52.45)">300</text>
<text class="yt" x="125" y="1634.51" transform="matrix(1 0 0 1.0300 0 -49.04)">400</text>
<text class="yt" x="125" y="1520.64" transform="matrix(1 0 0 1.0300 0 -45.62)">500</text>
<text class="m" x="154.75" y="2103.5">Jan</text>
<text class="m" x="191.25" y="2103.5">Feb</text>
<text class="m" x="227.75" y="2103.5">Mar</text>
<text class="m" x="264.25" y="2103.5">Apr</text>
<text class="m" x="300.75" y="2103.5">May</text>
<text class="m" x="337.25" y="2103.5">Jun</text>
<text class="m" x="373.75" y="2103.5">Jul</text>
<text class="m" x="410.25" y="2103.5">Aug</text>
<text class="m" x="446.75" y="2103.5">Sep</text>
<text class="m" x="483.25" y="2103.5">Oct</text>
<text class="m" x="519.75" y="2103.5">Nov</text>
<text class="m" x="556.25" y="2103.5">Dec</text>
<text class="m" x="592.75" y="2103.5">Jan</text>
<text class="m" x="629.25" y="2103.5">Feb</text>
<text class="m" x="665.75" y="2103.5">Mar</text>
<text class="m" x="702.25" y="2103.5">Apr</text>
<text class="m" x="738.75" y="2103.5">May</text>
<text class="m" x="775.25" y="2103.5">Jun</text>
<text class="m" x="811.75" y="2103.5">Jul</text>
<text class="m" x="848.25" y="2103.5">Aug</text>
<text class="m" x="884.75" y="2103.5">Sep</text>
<text class="m" x="921.25" y="2103.5">Oct</text>
<text class="m" x="957.75" y="2103.5">Nov</text>
<text class="m" x="994.25" y="2103.5">Dec</text>
<text class="m" x="1030.75" y="2103.5">Jan</text>
<text class="m" x="1067.25" y="2103.5">Feb</text>
<text class="m" x="1103.75" y="2103.5">Mar</text>
<text class="m" x="1140.25" y="2103.5">Apr</text>
<text class="m" x="1176.75" y="2103.5">May</text>
<text class="m" x="1213.25" y="2103.5">Jun</text>
<text class="m" x="1249.75" y="2103.5">Jul</text>
<text class="m" x="1286.25" y="2103.5">Aug</text>
<text class="m" x="1322.75" y="2103.5">Sep</text>
<text class="m" x="1359.25" y="2103.5">Oct</text>
<text class="m" x="1395.75" y="2103.5">Nov</text>
<text class="m" x="1432.25" y="2103.5">Dec</text>
<text class="t" x="160.6" y="1515.8">Glazoué</text>
<text class="yr" style="text-anchor:start" x="279.07" y="2160.1" fill="#adc422">20</text><path transform="translate(331.9 2160.1) scale(0.02319 -0.02319)" d="M800 0L550 0L550 1030Q400 905 190 850L190 1090Q300 1125 420 1220Q525 1305 560 1430L800 1430Z" fill="#adc422"/><text class="yr" style="text-anchor:start" x="358.32" y="2160.1" fill="#adc422">5</text>
<text class="yr" style="text-anchor:start" x="706.17" y="2158.5" fill="#0cf8f4">20</text><path transform="translate(759 2158.5) scale(0.02319 -0.02319)" d="M800 0L550 0L550 1030Q400 905 190 850L190 1090Q300 1125 420 1220Q525 1305 560 1430L800 1430Z" fill="#0cf8f4"/><text class="yr" style="text-anchor:start" x="785.42" y="2158.5" fill="#0cf8f4">6</text>
<text class="yr" style="text-anchor:start" x="1199.17" y="2160.1" fill="#f89218">20</text><path transform="translate(1252 2160.1) scale(0.02319 -0.02319)" d="M800 0L550 0L550 1030Q400 905 190 850L190 1090Q300 1125 420 1220Q525 1305 560 1430L800 1430Z" fill="#f89218"/><text class="yr" style="text-anchor:start" x="1278.42" y="2160.1" fill="#f89218">7</text>
<text class="ax" transform="translate(43.6 1765.95) rotate(-90)">Total rainfall (mm)</text>
<text class="ax" x="756.6" y="2216.5">Time</text>
</svg></body></html>
